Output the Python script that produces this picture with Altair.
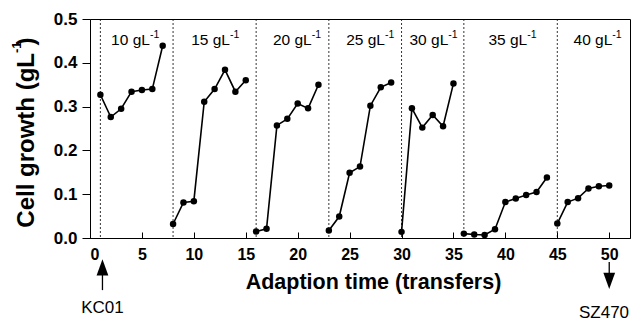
import altair as alt
import pandas as pd

# ---- data ----
transfers = list(range(1, 51))
growth = [
    0.327, 0.276, 0.295, 0.334, 0.338, 0.340, 0.439,            # 10 g/L (1-7)
    0.032, 0.081, 0.084, 0.311, 0.340, 0.384, 0.334, 0.360,     # 15 g/L (8-15)
    0.015, 0.021, 0.257, 0.272, 0.307, 0.296, 0.350,           # 20 g/L (16-22)
    0.017, 0.049, 0.149, 0.163, 0.302, 0.344, 0.355,           # 25 g/L (23-29)
    0.014, 0.296, 0.252, 0.281, 0.255, 0.353,                  # 30 g/L (30-35)
    0.010, 0.008, 0.007, 0.020, 0.082, 0.090, 0.098, 0.105, 0.138,  # 35 g/L (36-44)
    0.033, 0.082, 0.091, 0.113, 0.118, 0.120,                  # 40 g/L (45-50)
]
segment_starts = [1, 8, 16, 23, 30, 36, 45]
segment_labels = ["10 gL", "15 gL", "20 gL", "25 gL", "30 gL", "35 gL", "40 gL"]
label_x = [5.77, 13.48, 21.35, 28.4, 34.5, 42.1, 50.3]   # where the superscript starts
label_y = [0.4406] * 7
sup_y = [0.4566] * 7
x_ticks = [0, 5, 10, 15, 20, 25, 30, 35, 40, 45, 50]
y_ticks = [0.0, 0.1, 0.2, 0.3, 0.4, 0.5]

# y-axis title pieces (to get a real superscript)
ytitle_parts = ["Cell growth (gL", "-1", ")"]
ytitle_x = [-5.40, -6.65, -5.40]
ytitle_y = [0.4224, 0.4224, 0.4394]

# annotations below the axis (strain names with arrows)
strain_names = ["KC01", "SZ470"]
strain_x = [1.2, 49.5]
strain_y = [-0.160, -0.171]
arrow_x = [1.2, 50]
arrow_shaft_y1 = [-0.067, -0.055]
arrow_shaft_y2 = [-0.119, -0.098]
arrow_head_y = [-0.067, -0.098]
arrow_head_shape = ["M0,-1L0.73,1L-0.73,1Z", "M0,1L0.73,-1L-0.73,-1Z"]

# ---- tables ----
seg_of = []
s = 0
for t in transfers:
    while s + 1 < len(segment_starts) and t >= segment_starts[s + 1]:
        s += 1
    seg_of.append(s)
df = pd.DataFrame({"x": transfers, "y": growth, "seg": seg_of})
vl = pd.DataFrame({"x": segment_starts})
lab = pd.DataFrame({"x": label_x, "y": label_y, "ys": sup_y, "t": segment_labels,
                    "s": ["-1"] * len(segment_labels)})
ticks = pd.DataFrame({"x": x_ticks})
strains = pd.DataFrame({"x": strain_x, "y": strain_y, "t": strain_names})
arrows = pd.DataFrame({"x": arrow_x, "y1": arrow_shaft_y1, "y2": arrow_shaft_y2,
                       "yh": arrow_head_y, "shape": arrow_head_shape})
yt = pd.DataFrame({"x": ytitle_x, "y": ytitle_y, "t": ytitle_parts})

FONT = "Liberation Sans"
xscale = alt.Scale(domain=[0, 52], nice=False, zero=False)
yscale = alt.Scale(domain=[0, 0.5], nice=False)

y_axis = alt.Axis(values=y_ticks, format=".1f", grid=False, tickSize=8, title=None,
                  tickColor="black", labelFontSize=17, labelFontWeight="bold",
                  labelFont=FONT, labelPadding=5, domainColor="black", labelColor="black")


def X(field):
    return alt.X(field, type="quantitative", scale=xscale, axis=None)


def Y(field):
    return alt.Y(field, type="quantitative", scale=yscale, axis=y_axis, title=None)


x_main = alt.X("x:Q", scale=xscale, title="Adaption time (transfers)",
               axis=alt.Axis(values=x_ticks, ticks=False, grid=False, labelPadding=8,
                             labelFontSize=16, labelFontWeight="bold", labelFont=FONT,
                             titleFontSize=21.5, titleFontWeight="bold", titleFont=FONT,
                             titlePadding=9, titleX=283, domainColor="black",
                             labelColor="black", titleColor="black"))

lines = alt.Chart(df).mark_line(color="black", strokeWidth=1.6).encode(
    x=x_main, y=Y("y"), detail="seg:N")
pts = alt.Chart(df).mark_circle(color="black", size=42, opacity=1).encode(
    x=X("x"), y=Y("y"))
vlines = alt.Chart(vl).mark_rule(color="black", strokeWidth=0.8, strokeDash=[2, 2]).encode(
    x=X("x"))
labels = alt.Chart(lab).mark_text(fontSize=15.5, font=FONT, color="black", align="right",
                                  baseline="alphabetic").encode(
    x=X("x"), y=Y("y"), text="t:N")
sups = alt.Chart(lab).mark_text(fontSize=10.5, font=FONT, color="black", align="left",
                                baseline="alphabetic").encode(
    x=X("x"), y=Y("ys"), text="s:N")
inner_ticks = alt.Chart(ticks).mark_rule(opacity=0).encode(
    x=alt.X("x:Q", scale=xscale, title=None,
            axis=alt.Axis(orient="top", offset=-219, values=x_ticks, labels=False,
                          domain=False, tickSize=6, tickColor="black", grid=False)))
strain_txt = alt.Chart(strains).mark_text(fontSize=17, font=FONT, color="black").encode(
    x=X("x"), y=Y("y"), text="t:N")
shafts = alt.Chart(arrows).mark_rule(color="black", strokeWidth=1.3).encode(
    x=X("x"), y=Y("y1"), y2="y2:Q")
heads = alt.Chart(arrows).mark_point(color="black", filled=True, opacity=1, size=260,
                                     strokeWidth=0).encode(
    x=X("x"), y=Y("yh"), shape=alt.Shape("shape:N", scale=None, legend=None))

ytitle_main = alt.Chart(yt.iloc[[0]]).mark_text(
    fontSize=24, fontWeight="bold", font=FONT, color="black", angle=270,
    align="right", baseline="alphabetic").encode(x=X("x"), y=Y("y"), text="t:N")
ytitle_sup = alt.Chart(yt.iloc[[1]]).mark_text(
    fontSize=13, fontWeight="bold", font=FONT, color="black", angle=270,
    align="left", baseline="alphabetic").encode(x=X("x"), y=Y("y"), text="t:N")
ytitle_end = alt.Chart(yt.iloc[[2]]).mark_text(
    fontSize=24, fontWeight="bold", font=FONT, color="black", angle=270,
    align="left", baseline="alphabetic").encode(x=X("x"), y=Y("y"), text="t:N")

chart = alt.layer(lines, pts, vlines, labels, sups, inner_ticks, strain_txt, shafts, heads,
                  ytitle_main, ytitle_sup, ytitle_end).resolve_axis(
    x="independent"
).properties(
    width=540, height=219,
    autosize=alt.AutoSizeParams(type="none"),
    padding={"left": 90, "top": 19, "right": 11, "bottom": 86},
    background="white",
).configure_view(stroke="black", strokeWidth=1)

chart.save("out.html", embed_options={"renderer": "svg", "actions": False})
